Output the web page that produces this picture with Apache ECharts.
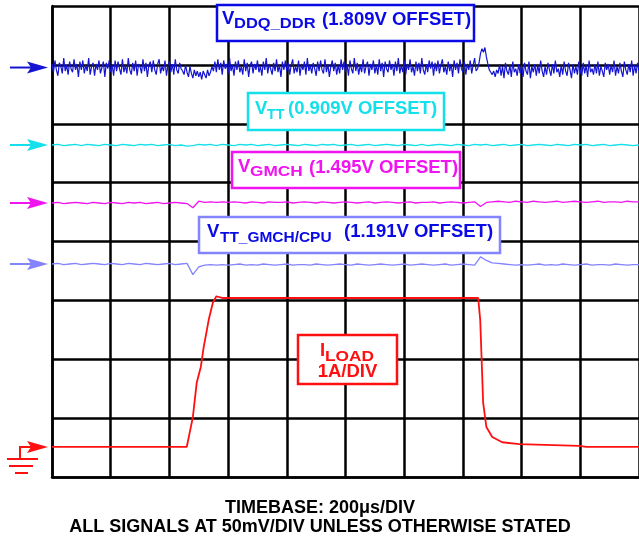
<!DOCTYPE html>
<html>
<head>
<meta charset="utf-8">
<script src="https://cdn.jsdelivr.net/npm/echarts@6/dist/echarts.min.js"></script>
<style>
  html, body { margin: 0; padding: 0; background: #fff; }
  #scope { width: 639px; height: 540px; }
</style>
</head>
<body>
<div id="scope"></div>
<script>
// scope settings
const mvPerDiv = 50
const ampPerDiv = 1
const stepDdq = 5       // µs between VDDQ samples
const stepRail = 20     // µs between samples of the quieter rails

// trace positions on screen (divisions from bottom)
const offsetDdq = 6.955
const offsetVtt = 5.639
const offsetGmch = 4.654
const offsetCpu = 3.618
const offsetLoad = 0.51

// VDDQ_DDR ripple, mV
const vddq = [
  3, -4, 6, -2, -7, 4, 1, -5, 8, -3, 2, -6, 5, -1, -4, 7, -2, 3, -8, 5,
  -2, 6, -5, 2, -3, 8, -6, 1, 4, -7, 3, -2, 6, -5, 0, 5, -8, 4, -1, 6,
  -4, 2, -7, 6, -3, 5, -1, -6, 7, -4, 2, -5, 8, -2, -6, 4, -3, 6, -7, 3,
  1, -5, 7, -3, 4, -8, 2, 5, -4, 6, -2, -6, 3, 7, -5, 1, -3, 6, -7, 2,
  5, -4, 3, -6, 7, -2, -5, 4, -1, -3, -6, 2, -4, -8, 1, -5, -9, -2, -7, -3,
  -8, -4, -10, -3, -6, -9, -2, -7, -4, 1, -3, 5, -4, 7, -2, 4, -6, 6, -1, 3,
  -5, 8, -3, 2, -7, 5, -2, 6, -4, 1, -6, 7, -3, 4, -8, 2, 5, -5, 3, -2,
  6, -4, 1, -7, 5, -2, 8, -5, 3, -1, -6, 4, -3, 7, -4, 2, -8, 5, -2, 6,
  -3, 4, -6, 2, 7, -5, 1, -4, 6, -7, 3, -2, 5, -6, 8, -3, 2, -5, 4, -1,
  -7, 5, -3, 6, -2, -5, 7, -4, 3, -8, 1, 6, -3, 4, -6, 2, -5, 7, -2, 5,
  -4, 3, -7, 6, -1, -5, 8, -3, 4, -6, 2, -4, 7, -5, 1, 5, -7, 3, -2, 6,
  -5, 2, -6, 7, -3, 4, -8, 5, -1, -4, 6, -2, 3, -7, 5, -3, 8, -5, 2, -4,
  6, -6, 3, -2, 7, -4, 1, -7, 5, -3, 4, -5, 8, -2, -6, 3, -4, 6, -1, 5,
  -7, 4, -3, 6, -5, 2, 7, -4, 1, -6, 5, -3, 3, -8, 6, -2, 4, -5, 7, -1,
  -4, 5, -6, 3, -2, 6, -5, 2, 8, -3, -1, 4, 12, 16, 13, 17, 9, 3, -2, -4,
  -6, -3, -8, -2, -5, 3, -7, 1, -9, 4, -3, -6, 2, -8, 5, -4, -1, -7, 3, -5,
  2, -8, 4, -3, -6, 5, -9, 1, -4, 3, -7, 2, -5, 6, -3, -8, 1, -6, 4, -2,
  -7, 3, -5, 6, -4, -1, -8, 2, -6, 5, -3, -7, 4, -2, -9, 3, -5, 1, -6, 5,
  -3, -7, 4, -5, 2, -8, 6, -4, -1, -6, 3, -5, 5, -7, 1, -3, -8, 4, -2, 3,
  -6, 2, -4, 6, -7, 1, -5, 4, -3, -8, 5, -2, -6, 3, -4, 6, -7, 2, -5, 4,
  -3
]
// VTT ripple, mV
const vtt = [
  0, 0.5, -0.5, 0, 0.5, -0.5, 0.5, 0, -0.5, 0.5,
  0, -0.5, 0.5, 0, -0.5, 0.5, 0, 0.5, -0.5, 0,
  0.5, -0.5, 0, -1, -0.5, 0.5, 0, 0.5, -0.5, 0.5,
  0, -0.5, 0.5, 0, 0.5, -0.5, 0, 0.5, -0.5, 0,
  0.5, 0, -0.5, 0.5, 0, -0.5, 0.5, 0, 0.5, -0.5,
  0, 0.5, -0.5, 0, 0.5, -0.5, 0, 0.5, 0, -0.5,
  0.5, 0, -0.5, 0.5, -0.5, 0, 0.5, 0, -0.5, 0.5,
  0, -0.5, 0.5, 0, 0.5, -0.5, 0, 0.5, -0.5, 0,
  0.5, -0.5, 0, 0.5, 0, -0.5, 0.5, 0, -0.5, 0.5,
  0, 0.5, -0.5, 0, 0.5, -0.5, 0, 0.5, 0, -0.5,
  0
]
// VGMCH ripple, mV
const vgmch = [
  0, 0.5, -0.5, 0, 0.5, 0, -0.5, 0.5, 0, -0.5,
  0.5, 0, -0.5, 0.5, 0, 0.5, -0.5, 0, 0.5, -0.5,
  0, 0.5, 0, -0.5, -4, 1.5, 0.5, 1, 0.5, 1,
  0.5, 1, 0.5, 0, 1, 0.5, 0, 1, 0.5, 0.5,
  1, 0, 0.5, 1, 0.5, 0, 1, 0.5, 0, 0.5,
  1, 0.5, 0, 0.5, 1, 0, 0.5, 1, 0.5, 0,
  0.5, 1, 0, 0.5, 0.5, 1, 0, 0.5, 1, 0.5,
  0, 0.5, 1, -3, 0.5, 1, 1.5, 1, 0.5, 1.5,
  1, 0.5, 1.5, 1, 0.5, 1, 1.5, 0.5, 1, 1.5,
  1, 0.5, 1, 1.5, 0.5, 1, 1, 0.5, 1.5, 1,
  1
]
// VTT_GMCH/CPU ripple, mV
const vttCpu = [
  0, 0.5, -0.5, 0, 0.5, -0.5, 0, 0.5, 0, -0.5,
  0.5, 0, -0.5, 0.5, 0, -0.5, 0.5, 0, -0.5, 0,
  0.5, -0.5, 0, 0.5, -9, -2.5, -1, -0.5, -1, -0.5,
  -1, -0.5, 0, -1, -0.5, -1, 0, -0.5, -1, -0.5,
  0, -1, -0.5, -0.5, -1, 0, -0.5, -1, -0.5, 0,
  -0.5, -1, 0, -0.5, -1, -0.5, 0, -0.5, -1, -0.5,
  0, -1, -0.5, 0, -0.5, -1, -0.5, 0, -1, -0.5,
  0, -0.5, -1, 6, 3, 1, 0.5, 0, -0.5, -1,
  -0.5, -1, -0.5, 0, -1, -0.5, -1, 0, -0.5, -1,
  -0.5, 0, -1, -0.5, -0.5, -1, 0, -0.5, -1, -0.5,
  -0.5
]
// load current step, µs / A
const loadTime = [0, 459, 469, 480, 493, 507, 517, 534, 548, 560, 566, 582, 1000,
  1452, 1459, 1463, 1469, 1480, 1500, 1534, 1592, 1796, 1820, 2000]
const loadAmp = [0, 0, 0.24, 0.51, 1.09, 1.36, 1.70, 2.16, 2.45, 2.56, 2.55, 2.53, 2.53,
  2.53, 2.16, 1.60, 0.75, 0.34, 0.17, 0.08, 0.05, 0.02, 0, 0]

// colours
const cDdq = '#1414d2'
const cVtt = '#14e0ec'
const cGmch = '#f014f0'
const cCpu = '#8484ff'
const cLoad = '#ff1010'
const cText = '#0a0ae6'

const FONT = '"Liberation Sans", Arial, sans-serif'

const toDiv = (arr, step, offset) => arr.map((mv, i) => [i * step, offset + mv / mvPerDiv])
const loadData = loadTime.map((t, i) => [t, offsetLoad + loadAmp[i] / ampPerDiv])

const chart = echarts.init(document.getElementById('scope'), null, {renderer: 'canvas'})

const gridLine = {color: '#000', width: 2.5}
const axisCommon = {
  axisLabel: {show: false},
  axisTick: {show: false},
  axisLine: {show: true, lineStyle: gridLine},
  splitLine: {show: true, lineStyle: gridLine}
}

const trace = (name, data, color, width) => ({
  name,
  type: 'line',
  data,
  showSymbol: false,
  symbol: 'none',
  lineStyle: {color, width},
  z: 3
})

chart.setOption({
  animation: false,
  backgroundColor: '#fff',
  grid: {left: 52, top: 6, width: 588, height: 471},
  xAxis: {type: 'value', min: 0, max: 2000, interval: 200, ...axisCommon},
  yAxis: {type: 'value', min: 0, max: 8, interval: 1, ...axisCommon},
  series: [
    trace('VDDQ_DDR', toDiv(vddq, stepDdq, offsetDdq), cDdq, 1.2),
    trace('VTT', toDiv(vtt, stepRail, offsetVtt), cVtt, 1.3),
    trace('VGMCH', toDiv(vgmch, stepRail, offsetGmch), cGmch, 1.3),
    trace('VTT_GMCH/CPU', toDiv(vttCpu, stepRail, offsetCpu), cCpu, 1.3),
    trace('ILOAD', loadData, cLoad, 1.8)
  ]
})

// level markers on the left edge
const yOf = (div) => chart.convertToPixel({gridIndex: 0}, [0, div])[1]
const arrow = (div, color, x0) => {
  const y = yOf(div)
  return [
    {type: 'line', shape: {x1: x0, y1: y, x2: 31, y2: y}, style: {stroke: color, lineWidth: 2}, z: 10},
    {type: 'polygon', shape: {points: [[27, y - 6], [48, y], [27, y + 6], [31, y]]}, style: {fill: color}, z: 10}
  ]
}
const ground = () => {
  const y = yOf(offsetLoad)
  const ln = (x1, y1, x2, y2) => ({type: 'line', shape: {x1, y1, x2, y2}, style: {stroke: cLoad, lineWidth: 2}, z: 10})
  return [
    ln(20, y - 1, 20, y + 12),
    ln(7, y + 12, 38, y + 12),
    ln(9, y + 19, 33, y + 19),
    ln(15, y + 26, 28, y + 26)
  ]
}

// boxed captions
const txt = (text, x, y, size, color, scaleX, align) => ({
  type: 'text',
  x, y,
  scaleX: scaleX || 1,
  z: 21,
  style: {
    text,
    x: 0, y: 0,
    fill: color,
    font: 'bold ' + size + 'px ' + FONT,
    align: align || 'left', verticalAlign: 'middle',
    textAlign: align || 'left', textVerticalAlign: 'middle'
  }
})
const box = (x, y, w, h, stroke) => ({
  type: 'rect',
  shape: {x, y, width: w, height: h},
  style: {fill: '#fff', stroke, lineWidth: 2.5},
  z: 20
})
const caption = (b, stroke, color, v, sub, rest) => [
  box(b[0], b[1], b[2], b[3], stroke),
  txt('V', v[0], v[1], 18.5, color),
  txt(sub[0], sub[1], sub[2], 15, color, sub[3]),
  txt(rest[0], rest[1], rest[2], 18.5, color)
]

const graphics = [
  ...arrow(offsetDdq, cDdq, 10),
  ...arrow(offsetVtt, cVtt, 10),
  ...arrow(offsetGmch, cGmch, 10),
  ...arrow(offsetCpu, cCpu, 10),
  ...arrow(offsetLoad, cLoad, 20),
  ...ground(),
  ...caption([217, 5, 257, 36], cText, cText, [222, 19], ['DDQ_DDR', 234, 23.5, 1.1], ['(1.809V OFFSET)', 322, 19.5]),
  ...caption([248, 93, 196, 37], cVtt, cVtt, [255, 108.5], ['TT', 267, 114.5, 0.95], ['(0.909V OFFSET)', 288, 109]),
  ...caption([232, 152, 228, 36], cGmch, cGmch, [238, 167], ['GMCH', 250, 172, 1.15], ['(1.495V OFFSET)', 309, 167.5]),
  ...caption([199, 217, 301, 36], cCpu, cText, [207, 231.5], ['TT_GMCH/CPU', 220, 238, 1.03], ['(1.191V OFFSET)', 344, 232]),
  box(298, 335, 99, 49, cLoad),
  txt('I', 320, 350.5, 18.5, cLoad),
  txt('LOAD', 325, 356.5, 15, cLoad, 1.15),
  txt('1A/DIV', 347.5, 371.5, 18.5, cLoad, 1, 'center'),
  // footer
  txt('TIMEBASE: 200\u03bcs/DIV', 320, 508.5, 18, '#000', 1, 'center'),
  txt('ALL SIGNALS AT 50mV/DIV UNLESS OTHERWISE STATED', 320, 527, 18, '#000', 1, 'center')
]

chart.setOption({graphic: {elements: graphics}})
</script>
</body>
</html>
